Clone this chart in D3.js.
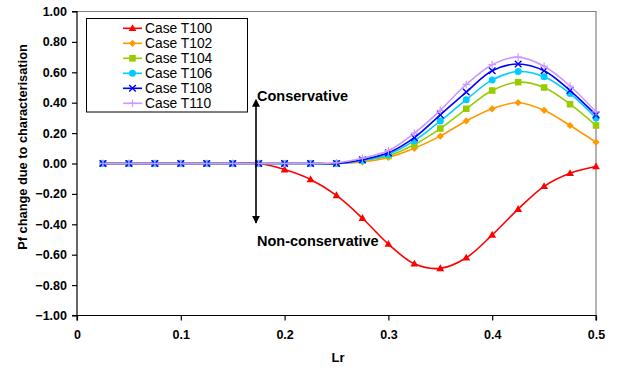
<!DOCTYPE html>
<html><head><meta charset="utf-8">
<script src="https://cdn.jsdelivr.net/npm/d3@7"></script>
<style>body{margin:0;background:#fff;} svg{display:block;font-family:"Liberation Sans",Arial,sans-serif;}</style>
</head><body><svg id="c" width="617" height="371"></svg>
<script>
const lr = [0.025,0.05,0.075,0.1,0.125,0.15,0.175,0.2,0.225,0.25,0.275,0.3,0.325,0.35,0.375,0.4,0.425,0.45,0.475,0.5];
const t100 = [0,0,0,0,0,0,0,-0.04,-0.105,-0.21,-0.36,-0.53,-0.66,-0.69,-0.62,-0.47,-0.30,-0.15,-0.064,-0.02];
const t102 = [0,0,0,0,0,0,0,0,0,0,0.01,0.04,0.10,0.18,0.28,0.36,0.40,0.35,0.25,0.14];
const t104 = [0,0,0,0,0,0,0,0,0,0,0.02,0.05,0.125,0.23,0.36,0.48,0.535,0.50,0.39,0.25];
const t106 = [0,0,0,0,0,0,0,0,0,0,0.02,0.06,0.15,0.28,0.42,0.55,0.605,0.57,0.46,0.30];
const t108 = [0,0,0,0,0,0,0,0,0,0,0.025,0.07,0.17,0.32,0.47,0.61,0.655,0.61,0.48,0.32];
const t110 = [0,0,0,0,0,0,0,0,0,0.005,0.035,0.085,0.20,0.35,0.52,0.65,0.70,0.64,0.51,0.34];
const seriesNames = ["Case T100","Case T102","Case T104","Case T106","Case T108","Case T110"];
const seriesColors = ["#FF0000","#FF9900","#99CC00","#00CCFF","#0000FF","#CC99FF"];
const seriesMarkers = ["triangle","diamond","square","circle","cross","plus"];
const xTicks = [0,0.1,0.2,0.3,0.4,0.5];
const yTicks = [1,0.8,0.6,0.4,0.2,0,-0.2,-0.4,-0.6,-0.8,-1];
const xTitle = "Lr";
const yTitle = "Pf change due to characterisation";
const notes = ["Conservative","Non-conservative"];

const svg = d3.select("#c");
const L=77, R=596, T=11.5, B=315.5;
const x = d3.scaleLinear().domain([0,0.5]).range([L,R]);
const y = d3.scaleLinear().domain([-1,1]).range([B,T]);
const all = [t100,t102,t104,t106,t108,t110];

// plot border (top/right grey)
svg.append("path").attr("d",`M${L},${T}H${R}V${B}`).attr("fill","none").attr("stroke","#808080").attr("stroke-width",1.2);

// axes
const ya = svg.append("g").attr("transform",`translate(${L},0)`)
  .call(d3.axisLeft(y).tickValues(yTicks).tickFormat(d3.format(".2f")).tickSize(5).tickPadding(5));
const xa = svg.append("g").attr("transform",`translate(0,${B})`)
  .call(d3.axisBottom(x).tickValues(xTicks).tickFormat(d=>d===0?"0":d3.format(".1f")(d)).tickSize(5).tickPadding(10));
[ya,xa].forEach(g=>{
  g.select(".domain").attr("stroke","#000").attr("stroke-width",1.2);
  g.selectAll(".tick line").attr("stroke","#000").attr("stroke-width",1.2);
  g.selectAll("text").attr("font-family","Liberation Sans, Arial, sans-serif").attr("font-size",12.5).attr("font-weight","bold").attr("fill","#000");
});
ya.select(".domain").attr("d",`M-5,${T}H0V${B}H-5`);
xa.select(".domain").attr("d",`M${L},5V0H${R}V5`);

svg.append("text").attr("x",338).attr("y",362).attr("text-anchor","middle")
  .attr("font-size",13).attr("font-weight","bold").text(xTitle);
svg.append("text").attr("transform","translate(27,147) rotate(-90)").attr("text-anchor","middle")
  .attr("font-size",12.8).attr("font-weight","bold").text(yTitle);

// markers
function marker(g, type, color, cx, cy){
  const s=3.6;
  if(type==="triangle") g.append("path").attr("d",`M${cx},${cy-s-0.5}L${cx+s+0.3},${cy+s-0.8}L${cx-s-0.3},${cy+s-0.8}Z`).attr("fill",color);
  else if(type==="diamond") g.append("path").attr("d",`M${cx},${cy-s}L${cx+s},${cy}L${cx},${cy+s}L${cx-s},${cy}Z`).attr("fill",color);
  else if(type==="square") g.append("rect").attr("x",cx-3.3).attr("y",cy-3.3).attr("width",6.6).attr("height",6.6).attr("fill",color);
  else if(type==="circle") g.append("circle").attr("cx",cx).attr("cy",cy).attr("r",3.5).attr("fill",color);
  else if(type==="cross") g.append("path").attr("d",`M${cx-3.3},${cy-3.3}L${cx+3.3},${cy+3.3}M${cx-3.3},${cy+3.3}L${cx+3.3},${cy-3.3}`).attr("stroke",color).attr("stroke-width",1.4);
  else if(type==="plus") g.append("path").attr("d",`M${cx-3.8},${cy}H${cx+3.8}M${cx},${cy-3.8}V${cy+3.8}`).attr("stroke",color).attr("stroke-width",1.2);
}

const line = d3.line().x(d=>x(d[0])).y(d=>y(d[1])).curve(d3.curveCatmullRom.alpha(0.5));
all.forEach((vals,i)=>{
  const pts = lr.map((v,j)=>[v,vals[j]]);
  const g = svg.append("g");
  g.append("path").attr("d",line(pts)).attr("fill","none").attr("stroke",seriesColors[i]).attr("stroke-width",1.6);
  pts.forEach(p=>marker(g,seriesMarkers[i],seriesColors[i],x(p[0]),y(p[1])));
});

// arrow
const defs = svg.append("defs");
["s","e"].forEach(k=>{
  defs.append("marker").attr("id","ah"+k).attr("viewBox","0 0 10 10").attr("refX",k==="e"?9:1).attr("refY",5)
    .attr("markerWidth",5).attr("markerHeight",5).attr("orient",k==="e"?"auto":"auto-start-reverse")
    .append("path").attr("d","M0,0L10,5L0,10Z").attr("fill","#000");
});
svg.append("line").attr("x1",256).attr("x2",256).attr("y1",106).attr("y2",223)
  .attr("stroke","#000").attr("stroke-width",1.6).attr("marker-start","url(#ahs)").attr("marker-end","url(#ahe)");
svg.append("text").attr("x",257).attr("y",101).attr("font-size",14.5).attr("font-weight","bold").text(notes[0]);
svg.append("text").attr("x",257).attr("y",246).attr("font-size",14.5).attr("font-weight","bold").text(notes[1]);

// legend
const lg = svg.append("g");
lg.append("rect").attr("x",86.5).attr("y",18.5).attr("width",161).attr("height",93.5).attr("fill","#fff").attr("stroke","#000").attr("stroke-width",1);
seriesNames.forEach((n,i)=>{
  const ly = 28.3 + i*15;
  lg.append("line").attr("x1",123).attr("x2",142).attr("y1",ly).attr("y2",ly).attr("stroke",seriesColors[i]).attr("stroke-width",1.6);
  marker(lg,seriesMarkers[i],seriesColors[i],132.5,ly);
  lg.append("text").attr("x",145).attr("y",ly+5).attr("font-size",13.8).text(n);
});
</script></body></html>
